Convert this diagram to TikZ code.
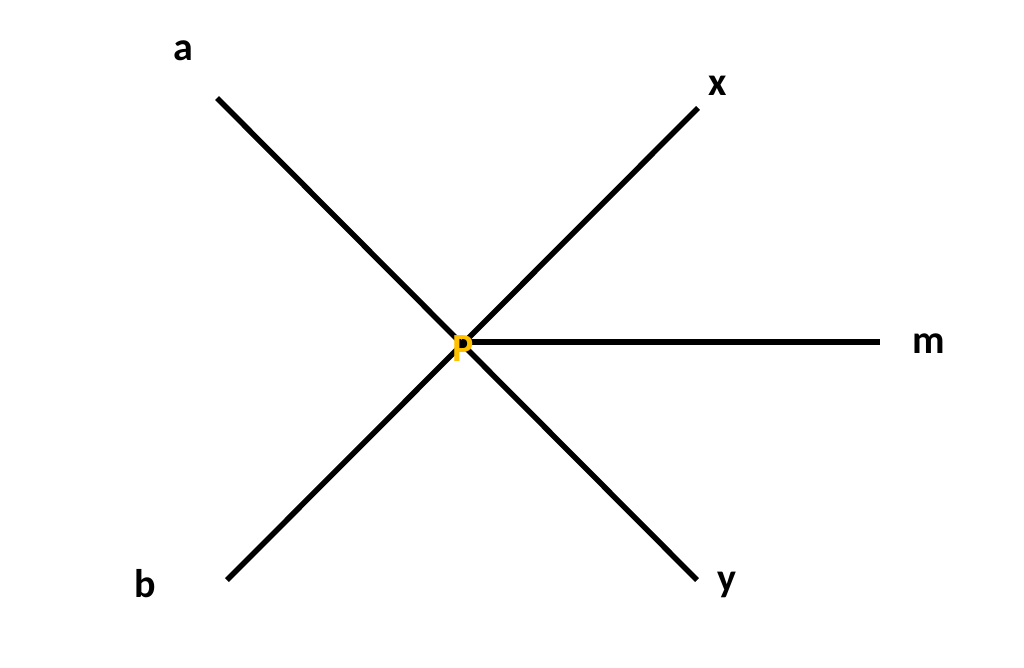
\documentclass[tikz,border=0pt]{standalone}
\usepackage{fontspec}
\setmainfont{Carlito}
\usepackage{xcolor}
\definecolor{pgold}{HTML}{FFC000}
\tikzset{
  ray/.style={line width=5.5pt},
  lbl/.style={font=\fontsize{40}{48}\selectfont\bfseries, inner sep=0pt},
}

\begin{document}
\begin{tikzpicture}[x=1pt, y=-1pt]
      \useasboundingbox (0,0) rectangle (1024,667);
      % End points of the lines
      \coordinate (a) at (217,98);
      \coordinate (y) at (697,580);
      \coordinate (x) at (698,108);
      \coordinate (b) at (227,580);
      \coordinate (m) at (880,342);
      \coordinate (p) at (462,342);
      % Lines
      \draw[ray] (a) -- (y);
      \draw[ray] (b) -- (x);
      \draw[ray] (p) -- (m);
      % Labels
      \node[lbl] (la) at (183,51) {a};
      \node[lbl] (lx) at (718,86) {x};
      \node[lbl] (lm) at (929,344) {m};
      \node[lbl] (lb) at (145,584) {b};
      \node[lbl] (ly) at (727,585) {y};
      % Intersection point
      \node[lbl, text=pgold] (P) at (463,349) {P};
    \end{tikzpicture}
\end{document}
